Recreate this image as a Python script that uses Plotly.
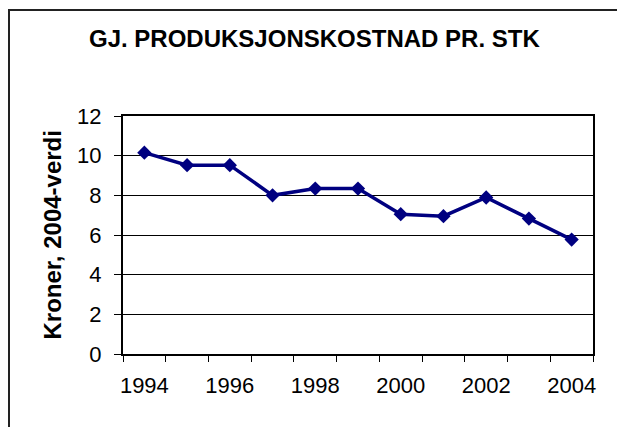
import plotly.graph_objects as go

years = [1994, 1995, 1996, 1997, 1998, 1999, 2000, 2001, 2002, 2003, 2004]
values = [10.15, 9.52, 9.52, 8.0, 8.34, 8.34, 7.05, 6.95, 7.89, 6.83, 5.77]
x_tick_labels = [1994, 1996, 1998, 2000, 2002, 2004]
y_ticks = [0, 2, 4, 6, 8, 10, 12]
title_text = "GJ. PRODUKSJONSKOSTNAD PR. STK"
y_title = "Kroner, 2004-verdi"

W, H = 617, 427
L, R, T, B = 123, 24, 116, 73
pw, ph = W - L - R, H - T - B

def px_x(p):
    return (p - L) / pw

def px_y(p):
    return (H - B - p) / ph

font = "Liberation Sans, Arial, sans-serif"

fig = go.Figure()
fig.add_trace(go.Scatter(
    x=years, y=values, mode="lines+markers",
    line=dict(color="#000080", width=3.5),
    marker=dict(symbol="diamond", size=11, color="#000080"),
    showlegend=False, cliponaxis=False,
))

border = dict(color="#222222", width=2)

fig.update_layout(
    width=W, height=H,
    margin=dict(l=L, r=R, t=T, b=B, pad=0),
    paper_bgcolor="white", plot_bgcolor="white",
    font=dict(family=font, color="black", size=22),
    xaxis=dict(
        range=[years[0] - 0.5, years[-1] + 0.5],
        tickvals=x_tick_labels, ticktext=[str(v) for v in x_tick_labels],
        ticks="", showgrid=False, zeroline=False,
        showline=True, linecolor="black", linewidth=2, mirror=True,
        tickfont=dict(size=22), ticklabelstandoff=11,
        minor=dict(tick0=years[0] - 0.5, dtick=1, ticks="outside",
                   ticklen=6, tickwidth=1, tickcolor="black", showgrid=False),
    ),
    yaxis=dict(
        range=[0, 12], tickvals=y_ticks,
        ticks="outside", ticklen=7, tickwidth=1, tickcolor="black",
        showgrid=True, gridcolor="black", gridwidth=1, zeroline=False,
        showline=True, linecolor="black", linewidth=2, mirror=True,
        tickfont=dict(size=22), ticklabelstandoff=8,
    ),
    annotations=[
        dict(text=f"<b>{title_text}</b>", x=px_x(314), y=px_y(38.5),
             xref="paper", yref="paper", showarrow=False,
             xanchor="center", yanchor="middle",
             font=dict(size=24, family=font)),
        dict(text=f"<b>{y_title}</b>", x=px_x(51.5), y=0.5,
             xref="paper", yref="paper", showarrow=False, textangle=-90,
             xanchor="center", yanchor="middle",
             font=dict(size=24, family=font)),
    ],
    shapes=[
        dict(type="path", xref="paper", yref="paper",
             path=(f"M {px_x(9)},{px_y(H)} L {px_x(9)},{px_y(10)} "
                   f"L {px_x(W)},{px_y(10)}"),
             line=border, layer="above"),
    ],
)

fig.write_html(
    "out.html",
    config={"displayModeBar": False},
    post_script="document.body.style.margin='0';document.body.style.overflow='hidden';",
)
